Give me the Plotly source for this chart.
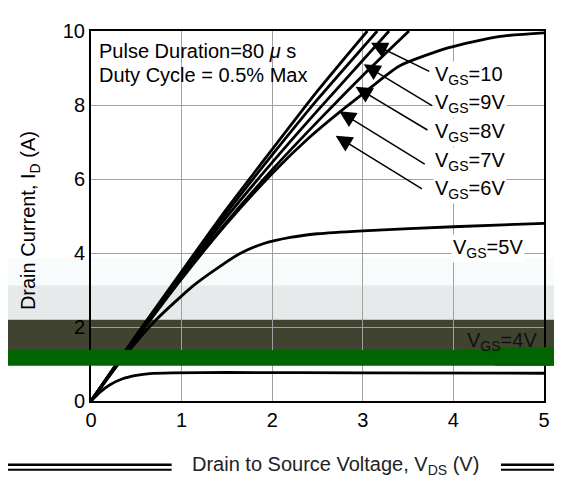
import plotly.graph_objects as go

# ---- data (Output characteristics) ----
vds_10 = [0, 0.5, 1.0, 1.5, 2.0, 2.5, 3.05]
id_10 = [0, 1.78, 3.5, 5.2, 6.8, 8.38, 10.0]

vds_9 = [0, 0.5, 1.0, 1.5, 2.0, 2.5, 3.16]
id_9 = [0, 1.76, 3.45, 5.1, 6.65, 8.15, 10.0]

vds_8 = [0, 0.5, 1.0, 1.5, 2.0, 2.5, 3.29]
id_8 = [0, 1.74, 3.4, 4.98, 6.45, 7.85, 10.0]

vds_7 = [0, 0.5, 1.0, 1.5, 2.0, 2.5, 3.0, 3.51]
id_7 = [0, 1.72, 3.35, 4.85, 6.25, 7.55, 8.8, 10.0]

vds_6 = [0, 0.5, 1.0, 1.5, 2.0, 2.4, 2.74, 3.0, 3.4, 3.95, 4.5, 5.0]
id_6 = [0, 1.68, 3.3, 4.8, 6.15, 7.1, 7.8, 8.3, 9.05, 9.55, 9.85, 9.95]

vds_5 = [0, 0.35, 0.7, 1.13, 1.4, 1.64, 1.9, 2.2, 2.5, 3.0, 4.0, 5.0]
id_5 = [0, 1.15, 2.15, 3.12, 3.6, 3.98, 4.25, 4.42, 4.52, 4.6, 4.71, 4.8]

vds_4 = [0, 0.1, 0.21, 0.35, 0.5, 0.65, 0.9, 1.5, 3.0, 5.0]
id_4 = [0, 0.24, 0.44, 0.6, 0.69, 0.74, 0.76, 0.77, 0.76, 0.75]

curves = [(vds_10, id_10), (vds_9, id_9), (vds_8, id_8), (vds_7, id_7),
          (vds_6, id_6), (vds_5, id_5), (vds_4, id_4)]

x_ticks = [0, 1, 2, 3, 4, 5]
y_ticks = [0, 2, 4, 6, 8, 10]

# curve labels: text, x, y (data coords, left edge / centre)
label_text = ["V<sub>GS</sub>=10", "V<sub>GS</sub>=9V", "V<sub>GS</sub>=8V",
              "V<sub>GS</sub>=7V", "V<sub>GS</sub>=6V", "V<sub>GS</sub>=5V",
              "V<sub>GS</sub>=4V"]
label_x = [3.78, 3.78, 3.78, 3.78, 3.78, 3.97, 4.13]
label_y = [8.81, 8.04, 7.25, 6.46, 5.71, 4.13, 1.61]
label_bg = ["white", "white", "white", "white", "white", "white", "rgba(0,0,0,0)"]
label_color = ["black", "black", "black", "black", "black", "black", "#111111"]

# arrows: head (x, y) and tail (x, y)
arrow_head_x = [3.09, 3.01, 2.92, 2.74, 2.70]
arrow_head_y = [9.68, 9.10, 8.49, 7.83, 7.17]
arrow_tail_x = [3.75, 3.78, 3.73, 3.70, 3.67]
arrow_tail_y = [8.89, 7.96, 7.30, 6.38, 5.71]

FONT = "Liberation Sans, Arial, sans-serif"

fig = go.Figure()
for vx, iy in curves:
    fig.add_trace(go.Scatter(x=vx, y=iy, mode="lines",
                             line=dict(color="black", width=2.8, shape="spline", smoothing=0.6),
                             showlegend=False, hoverinfo="skip"))

annotations = []
for t, x, y, bg, c in zip(label_text, label_x, label_y, label_bg, label_color):
    annotations.append(dict(x=x, y=y, xref="x", yref="y", text=t, showarrow=False,
                            xanchor="left", yanchor="middle", bgcolor=bg,
                            font=dict(size=20, color=c, family=FONT)))
for hx, hy, tx, ty in zip(arrow_head_x, arrow_head_y, arrow_tail_x, arrow_tail_y):
    annotations.append(dict(x=hx, y=hy, xref="x", yref="y", ax=tx, ay=ty,
                            axref="x", ayref="y", text="", showarrow=True,
                            arrowhead=2, arrowsize=2.2, arrowwidth=1.5, arrowcolor="black"))

annotations.append(dict(x=0.066, y=9.47, xref="x", yref="y", xanchor="left", yanchor="middle",
                        text="Pulse Duration=80 <i>\u03bc</i> s", showarrow=False,
                        font=dict(size=20, color="black", family=FONT)))
annotations.append(dict(x=0.066, y=8.81, xref="x", yref="y", xanchor="left", yanchor="middle",
                        text="Duty Cycle = 0.5% Max", showarrow=False,
                        font=dict(size=20, color="black", family=FONT)))
annotations.append(dict(x=-0.134, y=0.487, xref="paper", yref="paper", textangle=-90,
                        text="Drain Current, I<sub>D</sub> (A)", showarrow=False,
                        xanchor="center", yanchor="middle",
                        font=dict(size=20, color="black", family=FONT)))
annotations.append(dict(x=0.54, y=-0.175, xref="paper", yref="paper",
                        text="Drain to Source Voltage, V<sub>DS</sub> (V)", showarrow=False,
                        xanchor="center", yanchor="middle",
                        font=dict(size=20, color="#222222", family=FONT)))

shapes = [
    # scan bands
    dict(type="rect", xref="paper", yref="paper", x0=-0.2, x1=1.1, y0=0.312, y1=0.386,
         fillcolor="#f8fbfb", line=dict(width=0), layer="below"),
    dict(type="rect", xref="paper", yref="paper", x0=-0.2, x1=1.1, y0=0.2196, y1=0.312,
         fillcolor="#e6eaea", line=dict(width=0), layer="below"),
    dict(type="rect", xref="paper", yref="paper", x0=-0.2, x1=1.1, y0=0.1376, y1=0.2196,
         fillcolor="#3f4330", line=dict(width=0), layer="below"),
    dict(type="rect", xref="paper", yref="paper", x0=-0.2, x1=1.1, y0=0.0952, y1=0.1376,
         fillcolor="#006400", line=dict(width=0), layer="above"),
    dict(type="rect", xref="paper", yref="paper", x0=0.892, x1=1.1, y0=0.0952, y1=0.145,
         fillcolor="#006400", line=dict(width=0), layer="above"),
    # double rule around the x title
    dict(type="line", xref="paper", yref="paper", x0=-0.2, x1=0.178, y0=-0.172, y1=-0.172,
         line=dict(color="black", width=2.5)),
    dict(type="line", xref="paper", yref="paper", x0=-0.2, x1=0.178, y0=-0.186, y1=-0.186,
         line=dict(color="black", width=2)),
    dict(type="line", xref="paper", yref="paper", x0=0.905, x1=1.1, y0=-0.172, y1=-0.172,
         line=dict(color="black", width=2.5)),
    dict(type="line", xref="paper", yref="paper", x0=0.905, x1=1.1, y0=-0.186, y1=-0.186,
         line=dict(color="black", width=2)),
]

fig.update_layout(
    width=554, height=481,
    margin=dict(l=83, r=16, t=15, b=88),
    paper_bgcolor="white", plot_bgcolor="rgba(0,0,0,0)",
    font=dict(family=FONT, size=20, color="black"),
    annotations=annotations, shapes=shapes,
    xaxis=dict(range=[0, 5], tickvals=x_ticks, ticktext=[str(v) for v in x_ticks],
               showgrid=True, gridcolor="#a0a0a0", gridwidth=1, zeroline=False,
               showline=True, linecolor="black", linewidth=2, mirror=True, ticks="",
               tickfont=dict(size=20, color="black", family=FONT)),
    yaxis=dict(range=[0, 10], tickvals=y_ticks, ticktext=[str(v) for v in y_ticks],
               showgrid=True, gridcolor="#a0a0a0", gridwidth=1, zeroline=False,
               showline=True, linecolor="black", linewidth=2, mirror=True, ticks="",
               tickfont=dict(size=20, color="black", family=FONT)),
)

fig.write_html("out.html")
